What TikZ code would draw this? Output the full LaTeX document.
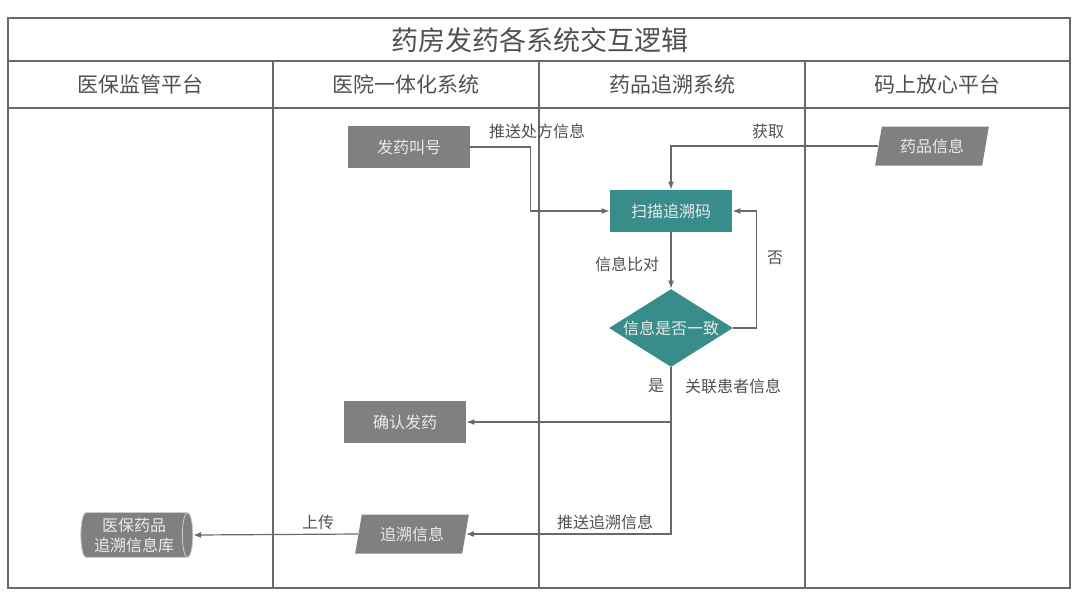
\documentclass[tikz,border=0pt]{standalone}
\usepackage{fontspec}
\setmainfont{Noto Sans CJK SC}
\usepackage{tikz}
\usetikzlibrary{shapes.geometric, arrows.meta, positioning}
\definecolor{framegray}{RGB}{105,105,105}
\definecolor{boxgray}{RGB}{128,128,128}
\definecolor{scanteal}{RGB}{56,140,138}
\definecolor{labelgray}{RGB}{80,80,80}

\begin{document}
\begin{tikzpicture}[x=0.5pt, y=-0.5pt,
    proc/.style={rectangle, fill=boxgray, text=white!92!black, font=\fontsize{8}{9}\selectfont, minimum width=61pt, minimum height=21pt, inner sep=0pt},
    scanbox/.style={proc, fill=scanteal},
    decide/.style={diamond, aspect=1.6, fill=scanteal, text=white!92!black, font=\fontsize{8}{9}\selectfont, minimum width=62pt, minimum height=39pt, inner sep=0pt},
    iobox/.style={trapezium, trapezium left angle=74, trapezium right angle=106, trapezium stretches=true, fill=boxgray, text=white!92!black, font=\fontsize{8}{9}\selectfont, minimum width=57pt, minimum height=19.5pt, inner sep=0pt},
    store/.style={cylinder, aspect=0.3, draw=white!80!black, cylinder uses custom fill, cylinder body fill=boxgray, cylinder end fill=boxgray, text=white!92!black, font=\fontsize{8}{10}\selectfont, align=center, minimum width=22.5pt, minimum height=56pt, inner sep=0pt},
    lbl/.style={text=labelgray, font=\fontsize{8}{9}\selectfont},
    flow/.style={draw=framegray, line width=0.6pt, -{Latex[length=4pt, width=3pt]}}]
    \useasboundingbox (0,0) rectangle (1080,602);

    % Frame and lanes
    \draw[framegray, line width=1pt] (8,18) rectangle (1070,588);
    \draw[framegray, line width=1pt] (8,61) -- (1070,61);
    \draw[framegray, line width=1pt] (8,108) -- (1070,108);
    \foreach \x in {273, 539, 805}
        \draw[framegray, line width=0.8pt] (\x,61) -- (\x,588);

    % Title and lane headers
    \node[text=labelgray, font=\fontsize{13.5}{15}\selectfont] (title) at (540,40) {药房发药各系统交互逻辑};
    \node[text=labelgray, font=\fontsize{10.5}{12}\selectfont] (lane1) at (140,84) {医保监管平台};
    \node[text=labelgray, font=\fontsize{10.5}{12}\selectfont] (lane2) at (406,84) {医院一体化系统};
    \node[text=labelgray, font=\fontsize{10.5}{12}\selectfont] (lane3) at (672,84) {药品追溯系统};
    \node[text=labelgray, font=\fontsize{10.5}{12}\selectfont] (lane4) at (937,84) {码上放心平台};

    % Steps
    \node[proc] (call) at (409,147) {发药叫号};
    \node[scanbox] (scan) at (671,211) {扫描追溯码};
    \node[iobox] (info) at (932,146) {药品信息};
    \node[decide] (check) at (671,328) {信息是否一致};
    \node[proc] (confirm) at (405,422) {确认发药};
    \node[iobox] (trace) at (412,534) {追溯信息};
    \node[store] (db) at (134,535) {医保药品\\追溯信息库};

    % Connectors
    \draw[flow] (call.east) -- ++(60,0) |- (scan.west);
    \draw[flow] (info.west) -| (scan.north);
    \draw[flow] (scan.south) -- (check.north);
    \draw[flow] (check.east) -- ++(23,0) |- (scan.east);
    \draw[flow] (check.south) |- (confirm.east);
    \draw[flow] (check.south) |- (trace.east);
    \draw[flow] (trace.west) -- (db.east);

    % Labels
    \node[lbl] (pushrx) at (537,131) {推送处方信息};
    \node[lbl] (fetch) at (768,131) {获取};
    \node[lbl] (compare) at (627,264) {信息比对};
    \node[lbl] (no) at (775,258) {否};
    \node[lbl] (yes) at (656,386) {是};
    \node[lbl] (link) at (733,386) {关联患者信息};
    \node[lbl] (pushtr) at (605,522) {推送追溯信息};
    \node[lbl] (upload) at (318,522) {上传};
\end{tikzpicture}
\end{document}
